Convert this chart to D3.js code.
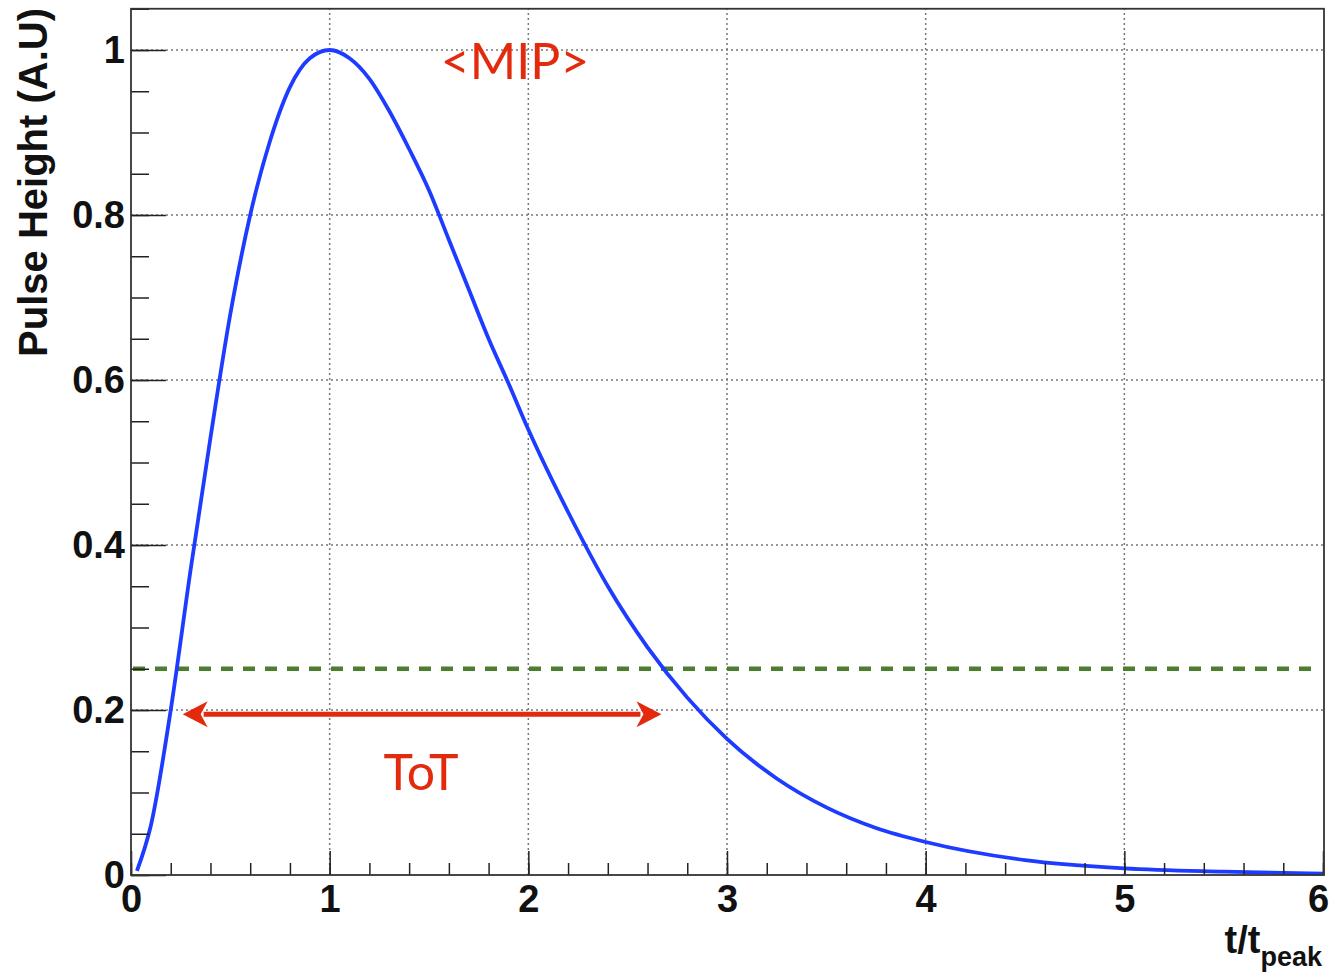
<!DOCTYPE html>
<html>
<head>
<meta charset="utf-8">
<script src="https://cdn.jsdelivr.net/npm/d3@7"></script>
<style>
  body { margin: 0; background: #fff; }
  svg { display: block; }
</style>
</head>
<body>
<div id="chart"></div>
<script>
// pulse shape (t/tpeak, height)
var pulseT = [0.03, 0.1, 0.2, 0.3, 0.4, 0.5, 0.6, 0.7, 0.8, 0.9, 1.0, 1.1, 1.2, 1.3, 1.4, 1.5, 1.6, 1.7, 1.8, 1.9, 2.0,
              2.2, 2.4, 2.6, 2.8, 3.0, 3.25, 3.5, 3.75, 4.0, 4.5, 5.0, 5.5, 6.0];
var pulseH = [0.005, 0.06, 0.20, 0.37, 0.53, 0.68, 0.80, 0.89, 0.955, 0.99, 1.0, 0.99, 0.965, 0.926, 0.88, 0.83, 0.77, 0.71, 0.65, 0.596, 0.54,
              0.44, 0.35, 0.276, 0.215, 0.165, 0.117, 0.082, 0.057, 0.04, 0.018, 0.008, 0.004, 0.0016];

var xMajor = [0, 1, 2, 3, 4, 5, 6];
var yMajor = [0, 0.2, 0.4, 0.6, 0.8, 1];
var xMinor = d3.range(0, 30.5).map(function(i){ return i / 5; });   // 0.2 steps
var yMinor = d3.range(0, 21.5).map(function(i){ return i / 20; });  // 0.05 steps

var threshold = 0.25;
var totStart = 0.26, totEnd = 2.67, totLevel = 0.195;

var W = 1330, H = 972;
var svg = d3.select("#chart").append("svg").attr("width", W).attr("height", H);

var x = d3.scaleLinear().domain([0, 6]).range([131, 1323]);
var y = d3.scaleLinear().domain([0, 1.05]).range([875, 8.75]);

//grid
svg.append("g").selectAll("line").data(xMajor.slice(1, -1)).enter().append("line")
    .attr("x1", function(d){ return x(d); }).attr("x2", function(d){ return x(d); })
    .attr("y1", y(0)).attr("y2", y(1.05))
    .attr("stroke", "#777").attr("stroke-width", 1.5).attr("stroke-dasharray", "2,3");
svg.append("g").selectAll("line").data(yMajor.slice(1)).enter().append("line")
    .attr("x1", x(0)).attr("x2", x(6))
    .attr("y1", function(d){ return y(d); }).attr("y2", function(d){ return y(d); })
    .attr("stroke", "#777").attr("stroke-width", 1.5).attr("stroke-dasharray", "2,3");

// threshold line
svg.append("line")
    .attr("x1", x(0.01)).attr("x2", x(5.96))
    .attr("y1", y(threshold)).attr("y2", y(threshold))
    .attr("stroke", "#4d7d2e").attr("stroke-width", 4.5).attr("stroke-dasharray", "12,10");

// pulse
var line = d3.line()
    .x(function(d, i){ return x(pulseT[i]); })
    .y(function(d){ return y(d); })
    .curve(d3.curveMonotoneX);
svg.append("path")
    .datum(pulseH)
    .attr("d", line)
    .attr("fill", "none")
    .attr("stroke", "#1e3cff")
    .attr("stroke-width", 3.8)
    .attr("stroke-linejoin", "round");

// ToT arrow
var ax1 = x(totStart), ax2 = x(totEnd), ay = y(totLevel);
var headL = 25, headW = 13;
svg.append("line")
    .attr("x1", ax1 + headL - 4).attr("x2", ax2 - headL + 4)
    .attr("y1", ay).attr("y2", ay)
    .attr("stroke", "#e32a0c").attr("stroke-width", 5);
svg.append("path")
    .attr("d", "M" + ax1 + "," + ay + "L" + (ax1 + headL) + "," + (ay - headW) + "L" + (ax1 + headL - 7) + "," + ay + "L" + (ax1 + headL) + "," + (ay + headW) + "Z")
    .attr("fill", "#e32a0c");
svg.append("path")
    .attr("d", "M" + ax2 + "," + ay + "L" + (ax2 - headL) + "," + (ay - headW) + "L" + (ax2 - headL + 7) + "," + ay + "L" + (ax2 - headL) + "," + (ay + headW) + "Z")
    .attr("fill", "#e32a0c");

svg.append("text")
    .attr("x", 421).attr("y", 790)
    .attr("text-anchor", "middle")
    .attr("font-family", "Lato, 'Open Sans', sans-serif")
    .attr("font-size", 50)
    .attr("fill", "#e32a0c")
    .text("ToT");

svg.append("text")
    .attr("x", 515).attr("y", 79)
    .attr("text-anchor", "middle")
    .attr("font-family", "Lato, 'Open Sans', sans-serif")
    .attr("font-size", 50)
    .attr("fill", "#e32a0c")
    .text("<MIP>");

// axes
var tickFont = "'Liberation Sans', Arial, sans-serif";

var xMinorAxis = svg.append("g").attr("transform", "translate(0," + y(0) + ")")
    .call(d3.axisBottom(x).tickValues(xMinor).tickSize(-12).tickFormat(""));
var xMajorAxis = svg.append("g").attr("transform", "translate(0," + y(0) + ")")
    .call(d3.axisBottom(x).tickValues(xMajor).tickSize(-24).tickPadding(10).tickFormat(d3.format("d")));
var yMinorAxis = svg.append("g").attr("transform", "translate(" + x(0) + ",0)")
    .call(d3.axisLeft(y).tickValues(yMinor).tickSize(-18).tickFormat(""));
var yMajorAxis = svg.append("g").attr("transform", "translate(" + x(0) + ",0)")
    .call(d3.axisLeft(y).tickValues(yMajor).tickSize(-35).tickPadding(6)
      .tickFormat(function(d){ return d === 0 || d === 1 ? d3.format("d")(d) : d3.format(".1f")(d); }));

[xMinorAxis, xMajorAxis, yMinorAxis, yMajorAxis].forEach(function(g){
  g.select(".domain").remove();
  g.selectAll(".tick line").attr("stroke", "#222").attr("stroke-width", 1.5);
  g.selectAll(".tick text")
    .attr("font-family", tickFont)
    .attr("font-weight", "bold")
    .attr("font-size", 38)
    .attr("fill", "#111");
});
// last x label sits on the page edge; nudge it in
xMajorAxis.selectAll(".tick text").filter(function(d){ return d === 6; }).attr("dx", -5);

// frame
svg.append("rect")
    .attr("x", x(0)).attr("y", y(1.05))
    .attr("width", x(6) - x(0) + 1).attr("height", y(0) - y(1.05))
    .attr("fill", "none").attr("stroke", "#333").attr("stroke-width", 1.8);

// titles
svg.append("text")
    .attr("transform", "translate(47,8) rotate(-90)")
    .attr("text-anchor", "end")
    .attr("font-family", tickFont)
    .attr("font-weight", "bold")
    .attr("font-size", 40)
    .attr("fill", "#111")
    .text("Pulse Height (A.U)");

var xt = svg.append("text")
    .attr("x", 1322).attr("y", 953)
    .attr("text-anchor", "end")
    .attr("font-family", tickFont)
    .attr("font-weight", "bold")
    .attr("font-size", 38)
    .attr("fill", "#111");
xt.append("tspan").text("t/t");
xt.append("tspan").attr("dy", 13).attr("font-size", 27).text("peak");
</script>
</body>
</html>
